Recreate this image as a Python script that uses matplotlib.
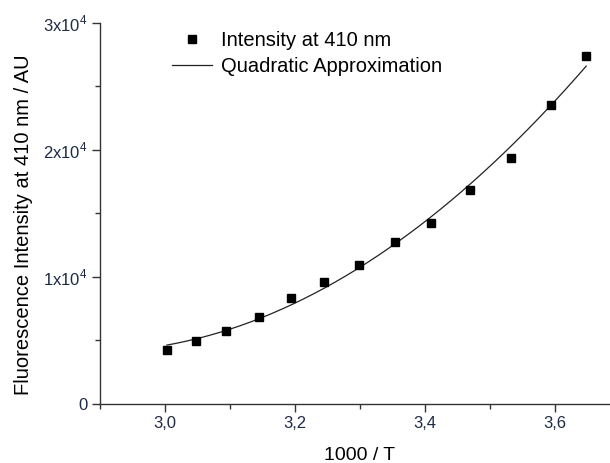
import numpy as np
import matplotlib
matplotlib.use("Agg")
import matplotlib.pyplot as plt
from matplotlib.ticker import FuncFormatter, MultipleLocator

plt.rcParams["font.family"] = ["Liberation Sans", "DejaVu Sans"]

# data
inv_temp = [3.003, 3.047, 3.094, 3.144, 3.194, 3.245, 3.298,
            3.354, 3.410, 3.469, 3.532, 3.594, 3.648]
intensity = [4250, 4980, 5740, 6870, 8360, 9600, 10940,
             12720, 14260, 16840, 19380, 23520, 27400]

# quadratic approximation of the measured points
coef = np.polyfit(inv_temp, intensity, 2)
xfit = np.linspace(inv_temp[0], inv_temp[-1], 200)
yfit = np.polyval(coef, xfit)

fig = plt.figure(figsize=(6.10, 4.63), dpi=100)
ax = fig.add_axes([100 / 610, 59 / 463, 520 / 610, 381.3 / 463])

ax.plot(inv_temp, intensity, "s", color="black", markersize=6,
        label="Intensity at 410 nm", zorder=3)
ax.plot(xfit, yfit, "-", color="#222222", linewidth=0.9,
        label="Quadratic Approximation", zorder=2)

ax.set_xlim(2.9, 3.7)
ax.set_ylim(0, 30000)
ax.xaxis.set_major_locator(MultipleLocator(0.2))
ax.xaxis.set_minor_locator(MultipleLocator(0.1))
ax.yaxis.set_major_locator(MultipleLocator(10000))
ax.yaxis.set_minor_locator(MultipleLocator(5000))
ax.xaxis.set_major_formatter(FuncFormatter(lambda v, p: f"{v:.1f}".replace(".", ",")))
ax.yaxis.set_major_formatter(FuncFormatter(
    lambda v, p: "0" if v == 0 else f"{int(round(v / 1e4))}x10$^\\mathregular{{4}}$"))

for side in ["top", "right"]:
    ax.spines[side].set_visible(False)
for side in ["left", "bottom"]:
    ax.spines[side].set_color("#333333")
    ax.spines[side].set_linewidth(1.0)

ax.tick_params(which="major", direction="out", length=6, width=1.0,
               color="#333333", labelsize=12, labelcolor="#1f2a44", pad=3)
ax.tick_params(which="minor", direction="out", length=3.5, width=1.0,
               color="#333333")

ax.set_xlabel("1000 / T", fontsize=14, va="center")
ax.xaxis.set_label_coords(0.5, -51 / 381.3)
ax.set_ylabel("Fluorescence Intensity at 410 nm / AU", fontsize=14.5)
ax.yaxis.set_label_coords(-67 / 520, 0.47)

ax.legend(loc="upper left", bbox_to_anchor=(172 / 610, 1 - 31 / 463),
          bbox_transform=fig.transFigure, frameon=False,
          fontsize=14.5, handlelength=2.0, handletextpad=0.45,
          labelspacing=0.35, borderpad=0, borderaxespad=0)

fig.savefig("out.png", dpi=100)
